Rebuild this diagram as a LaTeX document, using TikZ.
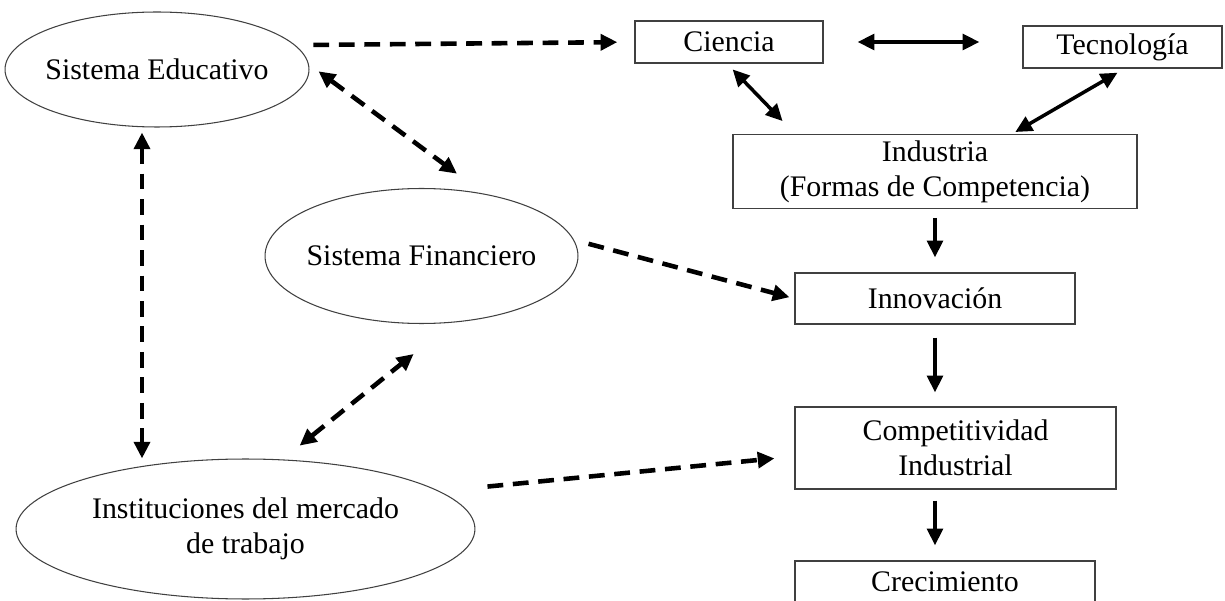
\documentclass[tikz,border=0pt]{standalone}
\usepackage{fontspec}
\setmainfont{Liberation Serif}
\usetikzlibrary{shapes.geometric, arrows.meta}

\begin{document}
\begin{tikzpicture}[x=0.02cm, y=-0.02cm, font=\fontsize{17}{19.8}\selectfont,
                >={Triangle[length=9.5pt, width=9pt]},
                elipse/.style={ellipse, draw=black!75, line width=0.6pt, inner ysep=0pt, inner xsep=-0.1cm, align=center},
                caja/.style={rectangle, draw=black!75, line width=0.8pt, align=center},
                solida/.style={line width=2pt},
                punteada/.style={line width=2.6pt, dash pattern=on 9pt off 5.5pt}]
                \useasboundingbox (0,0) rectangle (1225,601);
                \node[elipse, minimum width=6.08cm, minimum height=2.3cm] (edu) at (157,69.5) {Sistema Educativo};
                \node[elipse, minimum width=6.26cm, minimum height=2.7cm] (fin) at (421.5,256) {Sistema Financiero};
                \node[elipse, minimum width=9.18cm, minimum height=2.8cm] (inst) at (245.5,529) {Instituciones del mercado\\de trabajo};
                \node[caja, minimum width=3.76cm, minimum height=0.84cm] (cie) at (729,42) {Ciencia};
                \node[caja, minimum width=3.98cm, minimum height=0.84cm] (tec) at (1122.5,47) {Tecnología};
                \node[caja, minimum width=8.08cm, minimum height=1.46cm] (ind) at (935,171.5) {Industria\\(Formas de Competencia)};
                \node[caja, minimum width=5.6cm, minimum height=1.02cm] (inn) at (935,298.5) {Innovación};
                \node[caja, minimum width=6.42cm, minimum height=1.64cm] (comp) at (955.5,448) {Competitividad\\Industrial};
                \node[caja, minimum width=6cm, minimum height=0.84cm] (crec) at (945,582) {Crecimiento};
                \draw[punteada, ->, shorten <=0.36cm, shorten >=0.34cm] (edu.10) -- (cie.west);
                \draw[punteada, <->, shorten <=0.24cm, shorten >=0.67cm] (edu.2) -- (fin.45);
                \draw[punteada, <->, shorten <=0.1cm] ([xshift=-0.3cm]edu.south) -- ([xshift=-0.3cm]edu.south |- inst.north);
                \draw[punteada, ->, shorten <=0.3cm, shorten >=0.1cm] (fin.6) -- (inn.west);
                \draw[punteada, <->, shorten <=0.44cm, shorten >=1cm] (inst.62) -- (fin.295);
                \draw[punteada, ->, shorten <=0.96cm, shorten >=0.4cm] (inst.11) -- (comp.183);
                \draw[solida, <->, shorten <=0.68cm, shorten >=0.86cm] (cie.east) -- (cie.east -| tec.west);
                \draw[solida, <->, shorten <=0.16cm, shorten >=0.36cm] (cie.265) -- (ind.165);
                \draw[solida, <->, shorten <=0.16cm, shorten >=0.08cm] (tec.275) -- (ind.26);
                \draw[solida, ->, shorten <=0.18cm, shorten >=0.3cm] (ind.south) -- (inn.north);
                \draw[solida, ->, shorten <=0.26cm, shorten >=0.28cm] (inn.south) -- (inn.south |- comp.north);
                \draw[solida, ->, shorten <=0.22cm, shorten >=0.3cm] (inn.south |- comp.south) -- (inn.south |- crec.north);
\end{tikzpicture}
\end{document}
